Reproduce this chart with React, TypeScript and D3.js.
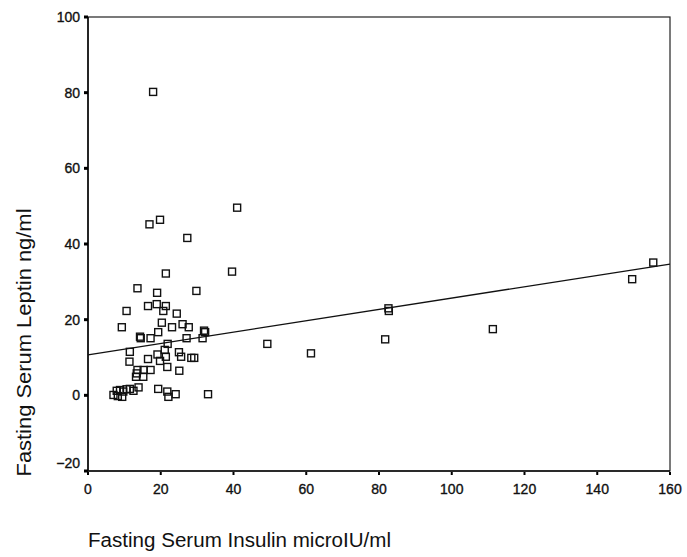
import React, { useEffect, useRef } from "react";
import * as d3 from "d3";

// Fasting serum insulin (microIU/ml) for each subject
const insulin: number[] = [
  21.4, 39.6, 13.6, 19.0, 29.8, 10.6, 16.5, 18.9, 21.4, 20.7,
  24.4, 20.3, 23.1, 26.0, 27.7, 9.3, 19.3, 14.3, 14.5, 17.2,
  31.9, 32.2, 31.5, 27.1, 21.9, 21.1, 11.5, 19.1, 21.4, 25.0,
  25.6, 28.4, 29.2, 11.4, 16.5, 19.8, 21.8, 25.1, 13.6, 15.3,
  17.2, 13.4, 13.2, 15.2, 13.9, 7.0, 7.9, 8.8, 9.7, 10.6,
  11.5, 12.5, 9.4, 8.2, 19.3, 21.8, 22.1, 24.1, 33.0, 17.9,
  16.9, 19.8, 27.3, 41.0, 82.6, 82.7, 49.3, 61.3, 81.7, 111.3,
  149.6, 155.4,
];

// Fasting serum leptin (ng/ml) for the same subjects
const leptin: number[] = [
  32.2, 32.7, 28.3, 27.1, 27.6, 22.3, 23.6, 24.1, 23.6, 22.3,
  21.6, 19.2, 18.0, 18.8, 18.0, 18.0, 16.7, 15.5, 15.1, 15.1,
  17.1, 16.7, 15.1, 15.1, 13.6, 12.0, 11.5, 10.8, 10.2, 11.4,
  10.2, 9.9, 9.9, 8.9, 9.6, 9.1, 7.5, 6.5, 6.7, 6.7,
  6.7, 5.8, 4.9, 4.9, 2.1, 0.1, 1.2, 1.4, 1.0, 1.6,
  1.7, 1.2, -0.4, -0.2, 1.7, 1.0, -0.4, 0.3, 0.3, 80.2,
  45.2, 46.4, 41.6, 49.6, 23.0, 22.3, 13.6, 11.1, 14.8, 17.5,
  30.7, 35.1,
];

// Least-squares fit line: leptin = intercept + slope * insulin
const fitIntercept = 10.7;
const fitSlope = 0.15;

const xTicks: number[] = [0, 20, 40, 60, 80, 100, 120, 140, 160];
const yTicks: number[] = [-20, 0, 20, 40, 60, 80, 100];

const xTitle = "Fasting Serum Insulin microIU/ml";
const yTitle = "Fasting Serum Leptin ng/ml";

const W = 687;
const H = 557;
const left = 88;
const right = 670;
const top = 17;
const bottom = 471;
const FONT = "Arial, 'Liberation Sans', Helvetica, sans-serif";

export default function App() {
  const ref = useRef<SVGSVGElement | null>(null);

  useEffect(() => {
    const svg = d3.select(ref.current);
    svg.selectAll("*").remove();

    const x = d3.scaleLinear().domain([0, 160]).range([left, right]);
    const y = d3.scaleLinear().domain([-20, 100]).range([bottom, top]);

    svg.append("rect").attr("width", W).attr("height", H).attr("fill", "#fff");

    // plot frame: lighter top/right, heavier axis lines
    svg
      .append("rect")
      .attr("x", left)
      .attr("y", top)
      .attr("width", right - left)
      .attr("height", bottom - top)
      .attr("fill", "none")
      .attr("stroke", "#222")
      .attr("stroke-width", 1.2);
    svg
      .append("path")
      .attr("d", `M${left},${top}V${bottom}H${right}`)
      .attr("fill", "none")
      .attr("stroke", "#111")
      .attr("stroke-width", 1.6);

    // y ticks and labels
    const yg = svg.append("g");
    yTicks.forEach((t, i) => {
      yg.append("rect")
        .attr("x", left - 4)
        .attr("y", y(t) - 1.5)
        .attr("width", 4)
        .attr("height", 3)
        .attr("fill", "#000");
      yg.append("text")
        .attr("x", left - 8)
        .attr("y", y(t) + (i === 0 ? -8 : 0))
        .attr("dy", "0.36em")
        .attr("text-anchor", "end")
        .attr("font-family", FONT)
        .attr("font-size", 14)
        .attr("fill", "#111")
        .attr("stroke", "#111")
        .attr("stroke-width", 0.35)
        .text(d3.format("d")(t));
    });

    // x ticks and labels
    const xg = svg.append("g");
    xTicks.forEach((t) => {
      xg.append("rect")
        .attr("x", x(t) - 1)
        .attr("y", bottom + 1)
        .attr("width", 2)
        .attr("height", 3)
        .attr("fill", "#000");
      xg.append("text")
        .attr("x", x(t))
        .attr("y", bottom + 23)
        .attr("text-anchor", "middle")
        .attr("font-family", FONT)
        .attr("font-size", 14)
        .attr("fill", "#111")
        .attr("stroke", "#111")
        .attr("stroke-width", 0.35)
        .text(d3.format("d")(t));
    });

    // regression line
    const fit = d3
      .line<number>()
      .x((d) => x(d))
      .y((d) => y(fitIntercept + fitSlope * d));
    svg
      .append("path")
      .attr("d", fit([0, 160]))
      .attr("fill", "none")
      .attr("stroke", "#111")
      .attr("stroke-width", 1.3);

    // data points as hollow squares
    const s = 7;
    svg
      .append("g")
      .selectAll("rect")
      .data(d3.range(insulin.length))
      .join("rect")
      .attr("x", (i) => x(insulin[i]) - s / 2)
      .attr("y", (i) => y(leptin[i]) - s / 2)
      .attr("width", s)
      .attr("height", s)
      .attr("fill", "none")
      .attr("stroke", "#111")
      .attr("stroke-width", 1.4);

    // axis titles
    svg
      .append("text")
      .attr("x", left)
      .attr("y", 547)
      .attr("font-family", FONT)
      .attr("font-size", 20)
      .attr("textLength", 303)
      .attr("lengthAdjust", "spacingAndGlyphs")
      .attr("fill", "#111")
      .text(xTitle);

    svg
      .append("text")
      .attr("transform", `translate(31, ${(208 + 477) / 2}) rotate(-90)`)
      .attr("text-anchor", "middle")
      .attr("font-family", FONT)
      .attr("font-size", 20)
      .attr("textLength", 268)
      .attr("lengthAdjust", "spacingAndGlyphs")
      .attr("fill", "#111")
      .text(yTitle);
  }, []);

  return (
    <svg
      ref={ref}
      width={W}
      height={H}
      style={{ position: "absolute", left: 0, top: 0, display: "block" }}
    />
  );
}
